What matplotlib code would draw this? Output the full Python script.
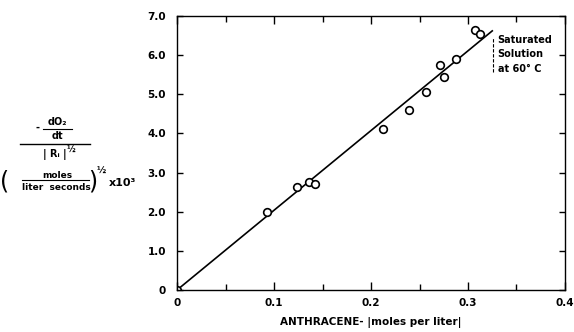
import matplotlib
matplotlib.use("Agg")
import matplotlib.pyplot as plt
from matplotlib.lines import Line2D
import numpy as np

# data
conc = [0.0, 0.0925, 0.1234, 0.1364, 0.1423, 0.2127, 0.2395, 0.257, 0.271, 0.2753, 0.288, 0.307, 0.3124]
rate = [0.0, 1.99, 2.63, 2.75, 2.71, 4.12, 4.59, 5.07, 5.74, 5.43, 5.91, 6.63, 6.55]
fit_x = [0.0, 0.325]
fit_y = [0.0, 6.62]
sat_x = 0.326
sat_y = [5.58, 6.47]
x_ticks = [0.0, 0.1, 0.2, 0.3, 0.4]
x_ticklabels = ["0", "0.1", "0.2", "0.3", "0.4"]
y_ticks = [0, 1, 2, 3, 4, 5, 6, 7]
y_ticklabels = ["0", "1.0", "2.0", "3.0", "4.0", "5.0", "6.0", "7.0"]

W, H = 574, 332
fig = plt.figure(figsize=(W / 100, H / 100), dpi=100)
ax = fig.add_axes([0.3084, 0.1265, 0.6759, 0.8253])
ax.set_xlim(0, 0.4)
ax.set_ylim(0, 7.0)

ax.plot(fit_x, fit_y, color="black", lw=1.2)
ax.plot(conc, rate, "o", mfc="white", mec="black", mew=1.2, ms=5.5)
ax.plot([sat_x, sat_x], sat_y, color="black", lw=0.8, ls=(0, (3, 1.5)))
ax.text(0.3305, 6.52, "Saturated\nSolution\nat 60° C", fontsize=7, fontweight="bold",
        va="top", ha="left", linespacing=1.55)

for s in ax.spines.values():
    s.set_linewidth(1.0)

ax.set_xticks(x_ticks)
ax.set_xticklabels(x_ticklabels, fontsize=7.5, fontweight="bold")
ax.set_xticks(np.arange(0.05, 0.4, 0.1), minor=True)
ax.set_yticks(y_ticks)
ax.set_yticklabels(y_ticklabels, fontsize=7.5, fontweight="bold")
ax.tick_params(axis="x", which="major", direction="in", length=6, width=1, top=True, pad=6)
ax.tick_params(axis="x", which="minor", direction="in", length=4, width=1, top=True)
ax.tick_params(axis="y", which="major", direction="in", length=4, width=1, right=True, pad=8)

ax.set_xlabel("ANTHRACENE- |moles per liter|", fontsize=7.5, fontweight="bold", labelpad=6)


def fx(x):
    return x / W


def fy(y):
    return 1 - y / H


def ftext(x, y, s, **kw):
    kw.setdefault("ha", "center")
    kw.setdefault("va", "center")
    kw.setdefault("fontweight", "bold")
    fig.text(fx(x), fy(y), s, **kw)


def fline(x0, x1, y, lw=0.9):
    fig.add_artist(Line2D([fx(x0), fx(x1)], [fy(y), fy(y)], color="black", lw=lw,
                          transform=fig.transFigure))


# y-axis label built from pieces
ftext(37, 128, "-", fontsize=7)
ftext(57, 122, "dO₂", fontsize=7)
fline(43, 72, 129, lw=0.8)
ftext(57, 136, "dt", fontsize=7)
fline(20, 90, 144, lw=1.0)
ftext(55, 154, "| Rᵢ |", fontsize=7)
ftext(71, 150, "½", fontsize=6)
ftext(5, 181, "(", fontsize=17, fontweight="normal")
ftext(93, 181, ")", fontsize=17, fontweight="normal")
ftext(57, 175, "moles", fontsize=6.5)
fline(22, 89, 180, lw=0.8)
ftext(56, 187, "liter  seconds", fontsize=6.5)
ftext(101, 171, "½", fontsize=6.5)
ftext(123, 183, "x10³", fontsize=8)

fig.savefig("out.png", dpi=100)
